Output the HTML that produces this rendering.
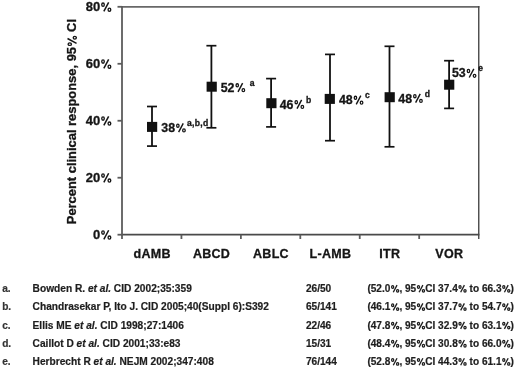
<!DOCTYPE html>
<html><head><meta charset="utf-8"><style>
html,body{margin:0;padding:0;background:#fff;}
body{width:520px;height:374px;overflow:hidden;}
svg{display:block;filter:blur(0.3px);}
text{font-family:"Liberation Sans",sans-serif;font-weight:bold;fill:#151515;stroke:#151515;stroke-width:0.3px;}
.yl{font-size:13px;}
.xl{font-size:12.5px;letter-spacing:0.3px;}
.dl{font-size:12.4px;}
.sp{font-size:8.6px;}
.spl{letter-spacing:0.3px;}
.yt{font-size:12.92px;}
.fn{font-size:10.15px;fill:#1e1e1e;stroke:#1e1e1e;stroke-width:0.2px;}
.fc{font-size:10.1px;}
.fb{font-size:10.17px;}
.fl{fill:#333;stroke:#333;}
.it{font-style:italic;}
.pc{fill:transparent;stroke:transparent;}
</style></head><body>
<svg width="520" height="374" viewBox="0 0 520 374">
<line x1="121.1" y1="6.8" x2="479.40000000000003" y2="6.8" stroke="#686868" stroke-width="1.8"/>
<line x1="121.1" y1="234.7" x2="479.40000000000003" y2="234.7" stroke="#4a4a4a" stroke-width="1.8"/>
<line x1="122.0" y1="5.8999999999999995" x2="122.0" y2="235.6" stroke="#5c5c5c" stroke-width="1.8"/>
<line x1="478.75" y1="5.8999999999999995" x2="478.75" y2="239" stroke="#484848" stroke-width="1.4"/>
<line x1="117.5" y1="234.70" x2="122.0" y2="234.70" stroke="#5c5c5c" stroke-width="1.8"/>
<text x="111.7" y="239.20" class="yl" text-anchor="end">0<tspan class="pc">%</tspan></text>
<line x1="117.5" y1="177.72" x2="122.0" y2="177.72" stroke="#5c5c5c" stroke-width="1.8"/>
<text x="111.7" y="182.22" class="yl" text-anchor="end">20<tspan class="pc">%</tspan></text>
<line x1="117.5" y1="120.75" x2="122.0" y2="120.75" stroke="#5c5c5c" stroke-width="1.8"/>
<text x="111.7" y="125.25" class="yl" text-anchor="end">40<tspan class="pc">%</tspan></text>
<line x1="117.5" y1="63.78" x2="122.0" y2="63.78" stroke="#5c5c5c" stroke-width="1.8"/>
<text x="111.7" y="68.28" class="yl" text-anchor="end">60<tspan class="pc">%</tspan></text>
<line x1="117.5" y1="6.80" x2="122.0" y2="6.80" stroke="#5c5c5c" stroke-width="1.8"/>
<text x="111.7" y="11.30" class="yl" text-anchor="end">80<tspan class="pc">%</tspan></text>
<line x1="122.00" y1="234.7" x2="122.00" y2="239" stroke="#5c5c5c" stroke-width="1.8"/>
<line x1="181.43" y1="234.7" x2="181.43" y2="239" stroke="#5c5c5c" stroke-width="1.8"/>
<line x1="240.87" y1="234.7" x2="240.87" y2="239" stroke="#5c5c5c" stroke-width="1.8"/>
<line x1="300.30" y1="234.7" x2="300.30" y2="239" stroke="#5c5c5c" stroke-width="1.8"/>
<line x1="359.73" y1="234.7" x2="359.73" y2="239" stroke="#5c5c5c" stroke-width="1.8"/>
<line x1="419.17" y1="234.7" x2="419.17" y2="239" stroke="#5c5c5c" stroke-width="1.8"/>
<line x1="152.00" y1="106.50" x2="152.00" y2="146.10" stroke="#111" stroke-width="1.8"/>
<line x1="147.00" y1="106.50" x2="157.00" y2="106.50" stroke="#111" stroke-width="1.7"/>
<line x1="147.00" y1="146.10" x2="157.00" y2="146.10" stroke="#111" stroke-width="1.7"/>
<rect x="147.00" y="121.90" width="10.2" height="10" fill="#111"/>
<text x="152.12" y="257.8" class="xl" text-anchor="middle">dAMB</text>
<line x1="211.40" y1="45.70" x2="211.40" y2="127.80" stroke="#111" stroke-width="1.8"/>
<line x1="206.40" y1="45.70" x2="216.40" y2="45.70" stroke="#111" stroke-width="1.7"/>
<line x1="206.40" y1="127.80" x2="216.40" y2="127.80" stroke="#111" stroke-width="1.7"/>
<rect x="206.60" y="81.70" width="10.2" height="10" fill="#111"/>
<text x="211.55" y="257.8" class="xl" text-anchor="middle">ABCD</text>
<line x1="271.10" y1="78.60" x2="271.10" y2="126.90" stroke="#111" stroke-width="1.8"/>
<line x1="266.10" y1="78.60" x2="276.10" y2="78.60" stroke="#111" stroke-width="1.7"/>
<line x1="266.10" y1="126.90" x2="276.10" y2="126.90" stroke="#111" stroke-width="1.7"/>
<rect x="266.30" y="98.20" width="10.2" height="10" fill="#111"/>
<text x="270.98" y="257.8" class="xl" text-anchor="middle">ABLC</text>
<line x1="330.00" y1="54.40" x2="330.00" y2="140.70" stroke="#111" stroke-width="1.8"/>
<line x1="325.00" y1="54.40" x2="335.00" y2="54.40" stroke="#111" stroke-width="1.7"/>
<line x1="325.00" y1="140.70" x2="335.00" y2="140.70" stroke="#111" stroke-width="1.7"/>
<rect x="324.70" y="93.90" width="10.2" height="10" fill="#111"/>
<text x="330.42" y="257.8" class="xl" text-anchor="middle">L-AMB</text>
<line x1="389.50" y1="46.30" x2="389.50" y2="146.80" stroke="#111" stroke-width="1.8"/>
<line x1="384.50" y1="46.30" x2="394.50" y2="46.30" stroke="#111" stroke-width="1.7"/>
<line x1="384.50" y1="146.80" x2="394.50" y2="146.80" stroke="#111" stroke-width="1.7"/>
<rect x="384.60" y="92.20" width="10.2" height="10" fill="#111"/>
<text x="389.85" y="257.8" class="xl" text-anchor="middle">ITR</text>
<line x1="449.10" y1="60.70" x2="449.10" y2="108.40" stroke="#111" stroke-width="1.8"/>
<line x1="444.10" y1="60.70" x2="454.10" y2="60.70" stroke="#111" stroke-width="1.7"/>
<line x1="444.10" y1="108.40" x2="454.10" y2="108.40" stroke="#111" stroke-width="1.7"/>
<rect x="444.10" y="79.70" width="10.2" height="10" fill="#111"/>
<text x="449.28" y="257.8" class="xl" text-anchor="middle">VOR</text>
<text x="161.3" y="132.0" class="dl">38<tspan class="pc">%</tspan></text>
<text x="220.7" y="91.7" class="dl">52<tspan class="pc">%</tspan></text>
<text x="279.7" y="108.5" class="dl">46<tspan class="pc">%</tspan></text>
<text x="338.9" y="104.2" class="dl">48<tspan class="pc">%</tspan></text>
<text x="398.3" y="102.5" class="dl">48<tspan class="pc">%</tspan></text>
<text x="451.9" y="77.4" class="dl">53<tspan class="pc">%</tspan></text>
<text x="186.9" y="125.6" class="sp spl">a,b,d</text>
<text x="249.7" y="85.5" class="sp">a</text>
<text x="306.1" y="102.6" class="sp">b</text>
<text x="364.9" y="97.8" class="sp">c</text>
<text x="424.8" y="96.5" class="sp">d</text>
<text x="478.3" y="70.7" class="sp">e</text>
<text transform="translate(76.4,224.2) rotate(-90)" class="yt">Percent clinical response, 95<tspan class="pc">%</tspan> CI</text>
<text x="2.2" y="292.1" class="fn fl">a.</text>
<text x="32.6" y="292.1" class="fn fb">Bowden R. <tspan class="it">et al.</tspan> CID 2002;35:359</text>
<text x="305.9" y="292.1" class="fn">26/50</text>
<text x="367.4" y="292.1" class="fn fc">(52.0<tspan class="pc">%</tspan>, 95<tspan class="pc">%</tspan>CI 37.4<tspan class="pc">%</tspan> to 66.3<tspan class="pc">%</tspan>)</text>
<text x="2.2" y="310.3" class="fn fl">b.</text>
<text x="32.6" y="310.3" class="fn fb">Chandrasekar P, Ito J. CID 2005;40(Suppl 6):S392</text>
<text x="305.9" y="310.3" class="fn">65/141</text>
<text x="367.4" y="310.3" class="fn fc">(46.1<tspan class="pc">%</tspan>, 95<tspan class="pc">%</tspan>CI 37.7<tspan class="pc">%</tspan> to 54.7<tspan class="pc">%</tspan>)</text>
<text x="2.2" y="328.8" class="fn fl">c.</text>
<text x="32.6" y="328.8" class="fn fb">Ellis ME <tspan class="it">et al.</tspan> CID 1998;27:1406</text>
<text x="305.9" y="328.8" class="fn">22/46</text>
<text x="367.4" y="328.8" class="fn fc">(47.8<tspan class="pc">%</tspan>, 95<tspan class="pc">%</tspan>CI 32.9<tspan class="pc">%</tspan> to 63.1<tspan class="pc">%</tspan>)</text>
<text x="2.2" y="347.0" class="fn fl">d.</text>
<text x="32.6" y="347.0" class="fn fb">Caillot D <tspan class="it">et al.</tspan> CID 2001;33:e83</text>
<text x="305.9" y="347.0" class="fn">15/31</text>
<text x="367.4" y="347.0" class="fn fc">(48.4<tspan class="pc">%</tspan>, 95<tspan class="pc">%</tspan>CI 30.8<tspan class="pc">%</tspan> to 66.0<tspan class="pc">%</tspan>)</text>
<text x="2.2" y="365.2" class="fn fl">e.</text>
<text x="32.6" y="365.2" class="fn fb">Herbrecht R <tspan class="it">et al.</tspan> NEJM 2002;347:408</text>
<text x="305.9" y="365.2" class="fn">76/144</text>
<text x="367.4" y="365.2" class="fn fc">(52.8<tspan class="pc">%</tspan>, 95<tspan class="pc">%</tspan>CI 44.3<tspan class="pc">%</tspan> to 61.1<tspan class="pc">%</tspan>)</text>
<g fill="none" stroke="rgb(21, 21, 21)" stroke-width="1.36"><ellipse cx="103.02" cy="232.54" rx="1.26" ry="1.68"/><ellipse cx="109.42" cy="237.57" rx="1.34" ry="1.57"/><line x1="103.84" y1="239.33" x2="108.65" y2="230.23" stroke-width="1.50"/></g>
<g fill="none" stroke="rgb(21, 21, 21)" stroke-width="1.36"><ellipse cx="103.02" cy="175.56" rx="1.26" ry="1.68"/><ellipse cx="109.42" cy="180.60" rx="1.34" ry="1.57"/><line x1="103.84" y1="182.35" x2="108.65" y2="173.25" stroke-width="1.50"/></g>
<g fill="none" stroke="rgb(21, 21, 21)" stroke-width="1.36"><ellipse cx="103.02" cy="118.59" rx="1.26" ry="1.68"/><ellipse cx="109.42" cy="123.62" rx="1.34" ry="1.57"/><line x1="103.84" y1="125.38" x2="108.65" y2="116.28" stroke-width="1.50"/></g>
<g fill="none" stroke="rgb(21, 21, 21)" stroke-width="1.36"><ellipse cx="103.02" cy="61.62" rx="1.26" ry="1.68"/><ellipse cx="109.42" cy="66.65" rx="1.34" ry="1.57"/><line x1="103.84" y1="68.41" x2="108.65" y2="59.31" stroke-width="1.50"/></g>
<g fill="none" stroke="rgb(21, 21, 21)" stroke-width="1.36"><ellipse cx="103.02" cy="4.64" rx="1.26" ry="1.68"/><ellipse cx="109.42" cy="9.68" rx="1.34" ry="1.57"/><line x1="103.84" y1="11.43" x2="108.65" y2="2.33" stroke-width="1.50"/></g>
<g fill="none" stroke="rgb(21, 21, 21)" stroke-width="1.30"><ellipse cx="177.85" cy="125.65" rx="1.20" ry="1.60"/><ellipse cx="183.95" cy="130.45" rx="1.28" ry="1.50"/><line x1="178.63" y1="132.12" x2="183.22" y2="123.44" stroke-width="1.43"/></g>
<g fill="none" stroke="rgb(21, 21, 21)" stroke-width="1.30"><ellipse cx="237.25" cy="85.35" rx="1.20" ry="1.60"/><ellipse cx="243.35" cy="90.15" rx="1.28" ry="1.50"/><line x1="238.03" y1="91.82" x2="242.62" y2="83.14" stroke-width="1.43"/></g>
<g fill="none" stroke="rgb(21, 21, 21)" stroke-width="1.30"><ellipse cx="296.25" cy="102.15" rx="1.20" ry="1.60"/><ellipse cx="302.35" cy="106.95" rx="1.28" ry="1.50"/><line x1="297.03" y1="108.62" x2="301.62" y2="99.94" stroke-width="1.43"/></g>
<g fill="none" stroke="rgb(21, 21, 21)" stroke-width="1.30"><ellipse cx="355.45" cy="97.85" rx="1.20" ry="1.60"/><ellipse cx="361.55" cy="102.65" rx="1.28" ry="1.50"/><line x1="356.23" y1="104.32" x2="360.82" y2="95.64" stroke-width="1.43"/></g>
<g fill="none" stroke="rgb(21, 21, 21)" stroke-width="1.30"><ellipse cx="414.85" cy="96.15" rx="1.20" ry="1.60"/><ellipse cx="420.95" cy="100.95" rx="1.28" ry="1.50"/><line x1="415.63" y1="102.62" x2="420.22" y2="93.94" stroke-width="1.43"/></g>
<g fill="none" stroke="rgb(21, 21, 21)" stroke-width="1.30"><ellipse cx="468.45" cy="71.05" rx="1.20" ry="1.60"/><ellipse cx="474.55" cy="75.85" rx="1.28" ry="1.50"/><line x1="469.23" y1="77.52" x2="473.82" y2="68.84" stroke-width="1.43"/></g>
<g fill="none" stroke="rgb(21, 21, 21)" stroke-width="1.36" transform="translate(76.4,224.2) rotate(-90)"><ellipse cx="180.07" cy="-6.62" rx="1.25" ry="1.67"/><ellipse cx="186.43" cy="-1.61" rx="1.33" ry="1.56"/><line x1="180.89" y1="0.13" x2="185.67" y2="-8.91" stroke-width="1.49"/></g>
<g fill="none" stroke="rgb(30, 30, 30)" stroke-width="1.26"><ellipse cx="392.66" cy="286.93" rx="1.06" ry="1.37"/><ellipse cx="397.63" cy="290.84" rx="1.12" ry="1.28"/><line x1="393.29" y1="292.20" x2="397.03" y2="285.13" stroke-width="1.31"/></g>
<g fill="none" stroke="rgb(30, 30, 30)" stroke-width="1.26"><ellipse cx="418.49" cy="286.93" rx="1.06" ry="1.37"/><ellipse cx="423.46" cy="290.84" rx="1.12" ry="1.28"/><line x1="419.12" y1="292.20" x2="422.86" y2="285.13" stroke-width="1.31"/></g>
<g fill="none" stroke="rgb(30, 30, 30)" stroke-width="1.26"><ellipse cx="460.02" cy="286.93" rx="1.06" ry="1.37"/><ellipse cx="464.99" cy="290.84" rx="1.12" ry="1.28"/><line x1="460.65" y1="292.20" x2="464.39" y2="285.13" stroke-width="1.31"/></g>
<g fill="none" stroke="rgb(30, 30, 30)" stroke-width="1.26"><ellipse cx="503.78" cy="286.93" rx="1.06" ry="1.37"/><ellipse cx="508.75" cy="290.84" rx="1.12" ry="1.28"/><line x1="504.42" y1="292.20" x2="508.16" y2="285.13" stroke-width="1.31"/></g>
<g fill="none" stroke="rgb(30, 30, 30)" stroke-width="1.26"><ellipse cx="392.66" cy="305.13" rx="1.06" ry="1.37"/><ellipse cx="397.63" cy="309.04" rx="1.12" ry="1.28"/><line x1="393.29" y1="310.40" x2="397.03" y2="303.33" stroke-width="1.31"/></g>
<g fill="none" stroke="rgb(30, 30, 30)" stroke-width="1.26"><ellipse cx="418.49" cy="305.13" rx="1.06" ry="1.37"/><ellipse cx="423.46" cy="309.04" rx="1.12" ry="1.28"/><line x1="419.12" y1="310.40" x2="422.86" y2="303.33" stroke-width="1.31"/></g>
<g fill="none" stroke="rgb(30, 30, 30)" stroke-width="1.26"><ellipse cx="460.02" cy="305.13" rx="1.06" ry="1.37"/><ellipse cx="464.99" cy="309.04" rx="1.12" ry="1.28"/><line x1="460.65" y1="310.40" x2="464.39" y2="303.33" stroke-width="1.31"/></g>
<g fill="none" stroke="rgb(30, 30, 30)" stroke-width="1.26"><ellipse cx="503.78" cy="305.13" rx="1.06" ry="1.37"/><ellipse cx="508.75" cy="309.04" rx="1.12" ry="1.28"/><line x1="504.42" y1="310.40" x2="508.16" y2="303.33" stroke-width="1.31"/></g>
<g fill="none" stroke="rgb(30, 30, 30)" stroke-width="1.26"><ellipse cx="392.66" cy="323.63" rx="1.06" ry="1.37"/><ellipse cx="397.63" cy="327.54" rx="1.12" ry="1.28"/><line x1="393.29" y1="328.90" x2="397.03" y2="321.83" stroke-width="1.31"/></g>
<g fill="none" stroke="rgb(30, 30, 30)" stroke-width="1.26"><ellipse cx="418.49" cy="323.63" rx="1.06" ry="1.37"/><ellipse cx="423.46" cy="327.54" rx="1.12" ry="1.28"/><line x1="419.12" y1="328.90" x2="422.86" y2="321.83" stroke-width="1.31"/></g>
<g fill="none" stroke="rgb(30, 30, 30)" stroke-width="1.26"><ellipse cx="460.02" cy="323.63" rx="1.06" ry="1.37"/><ellipse cx="464.99" cy="327.54" rx="1.12" ry="1.28"/><line x1="460.65" y1="328.90" x2="464.39" y2="321.83" stroke-width="1.31"/></g>
<g fill="none" stroke="rgb(30, 30, 30)" stroke-width="1.26"><ellipse cx="503.78" cy="323.63" rx="1.06" ry="1.37"/><ellipse cx="508.75" cy="327.54" rx="1.12" ry="1.28"/><line x1="504.42" y1="328.90" x2="508.16" y2="321.83" stroke-width="1.31"/></g>
<g fill="none" stroke="rgb(30, 30, 30)" stroke-width="1.26"><ellipse cx="392.66" cy="341.83" rx="1.06" ry="1.37"/><ellipse cx="397.63" cy="345.74" rx="1.12" ry="1.28"/><line x1="393.29" y1="347.10" x2="397.03" y2="340.03" stroke-width="1.31"/></g>
<g fill="none" stroke="rgb(30, 30, 30)" stroke-width="1.26"><ellipse cx="418.49" cy="341.83" rx="1.06" ry="1.37"/><ellipse cx="423.46" cy="345.74" rx="1.12" ry="1.28"/><line x1="419.12" y1="347.10" x2="422.86" y2="340.03" stroke-width="1.31"/></g>
<g fill="none" stroke="rgb(30, 30, 30)" stroke-width="1.26"><ellipse cx="460.02" cy="341.83" rx="1.06" ry="1.37"/><ellipse cx="464.99" cy="345.74" rx="1.12" ry="1.28"/><line x1="460.65" y1="347.10" x2="464.39" y2="340.03" stroke-width="1.31"/></g>
<g fill="none" stroke="rgb(30, 30, 30)" stroke-width="1.26"><ellipse cx="503.78" cy="341.83" rx="1.06" ry="1.37"/><ellipse cx="508.75" cy="345.74" rx="1.12" ry="1.28"/><line x1="504.42" y1="347.10" x2="508.16" y2="340.03" stroke-width="1.31"/></g>
<g fill="none" stroke="rgb(30, 30, 30)" stroke-width="1.26"><ellipse cx="392.66" cy="360.03" rx="1.06" ry="1.37"/><ellipse cx="397.63" cy="363.94" rx="1.12" ry="1.28"/><line x1="393.29" y1="365.30" x2="397.03" y2="358.23" stroke-width="1.31"/></g>
<g fill="none" stroke="rgb(30, 30, 30)" stroke-width="1.26"><ellipse cx="418.49" cy="360.03" rx="1.06" ry="1.37"/><ellipse cx="423.46" cy="363.94" rx="1.12" ry="1.28"/><line x1="419.12" y1="365.30" x2="422.86" y2="358.23" stroke-width="1.31"/></g>
<g fill="none" stroke="rgb(30, 30, 30)" stroke-width="1.26"><ellipse cx="460.02" cy="360.03" rx="1.06" ry="1.37"/><ellipse cx="464.99" cy="363.94" rx="1.12" ry="1.28"/><line x1="460.65" y1="365.30" x2="464.39" y2="358.23" stroke-width="1.31"/></g>
<g fill="none" stroke="rgb(30, 30, 30)" stroke-width="1.26"><ellipse cx="503.78" cy="360.03" rx="1.06" ry="1.37"/><ellipse cx="508.75" cy="363.94" rx="1.12" ry="1.28"/><line x1="504.42" y1="365.30" x2="508.16" y2="358.23" stroke-width="1.31"/></g>
</svg>
</body></html>
